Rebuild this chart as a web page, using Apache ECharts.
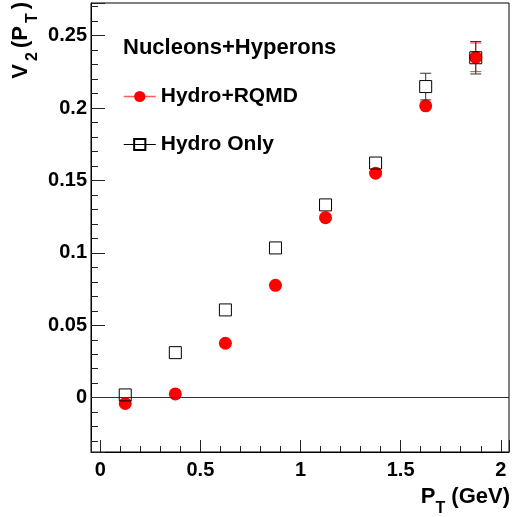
<!DOCTYPE html>
<html><head><meta charset="utf-8">
<script src="https://cdn.jsdelivr.net/npm/echarts@6/dist/echarts.min.js"></script>
<style>html,body{margin:0;padding:0;background:#fff}#c{width:512px;height:517px}</style>
</head><body><div id="c"></div>
<script>
// ---- data ----
const ptBins = [0.125, 0.375, 0.625, 0.875, 1.125, 1.375, 1.625, 1.875];
const v2HydroRQMD = [-0.004, 0.0026, 0.0376, 0.0776, 0.1243, 0.155, 0.2015, 0.2350];
const v2HydroRQMDErr = [0.002, 0.002, 0.002, 0.002, 0.003, 0.003, 0.004, 0.0099];
const v2HydroOnly = [0.0019, 0.0311, 0.0606, 0.1034, 0.1331, 0.162, 0.2148, 0.2347];
const v2HydroOnlyErr = [0.002, 0.002, 0.002, 0.002, 0.003, 0.003, 0.0092, 0.0112];
const xTickValues = [0, 0.5, 1, 1.5, 2];
const xTickLabels = ['0', '0.5', '1', '1.5', '2'];
const yTickValues = [0, 0.05, 0.1, 0.15, 0.2, 0.25];
const yTickLabels = ['0', '0.05', '0.1', '0.15', '0.2', '0.25'];
const seriesNames = ['Hydro+RQMD', 'Hydro Only'];
const legendTitle = 'Nucleons+Hyperons';

const FONT = '"Liberation Sans", Arial, Helvetica, sans-serif';
function lookup(vals, labels) {
  return function (v) {
    for (let i = 0; i < vals.length; i++) if (Math.abs(vals[i] - v) < 1e-9) return labels[i];
    return '';
  };
}
function pts(ys, errs) { return ptBins.map((x, i) => errs ? [x, ys[i], errs[i]] : [x, ys[i]]); }

function errRender(half, color, capHalf) {
  return function (params, api) {
    const x = api.value(0), y = api.value(1), e = api.value(2);
    const p = api.coord([x, y]);
    const top = api.coord([x, y + e])[1];
    const bot = api.coord([x, y - e])[1];
    const ch = [];
    const st = { stroke: color, lineWidth: 1 };
    if (p[1] - top > half) {
      ch.push({ type: 'line', shape: { x1: p[0], y1: top, x2: p[0], y2: p[1] - half }, style: st });
      ch.push({ type: 'line', shape: { x1: p[0] - capHalf, y1: top, x2: p[0] + capHalf, y2: top }, style: st });
    }
    if (bot - p[1] > half) {
      ch.push({ type: 'line', shape: { x1: p[0], y1: p[1] + half, x2: p[0], y2: bot }, style: st });
      ch.push({ type: 'line', shape: { x1: p[0] - capHalf, y1: bot, x2: p[0] + capHalf, y2: bot }, style: st });
    }
    return { type: 'group', children: ch };
  };
}

const chart = echarts.init(document.getElementById('c'), null, { renderer: 'canvas' });
const axisLabelStyle = { fontSize: 20, fontWeight: 'bold', color: '#000', fontFamily: FONT };
const richX = {
  m: { fontSize: 22, fontWeight: 'bold', fontFamily: FONT, color: '#000' },
  s: { fontSize: 16, fontWeight: 'bold', fontFamily: FONT, color: '#000', padding: [25, 0, 0, 0] }
};
const richY = {
  m: { fontSize: 22, fontWeight: 'bold', fontFamily: FONT, color: '#000' },
  s: { fontSize: 16, fontWeight: 'bold', fontFamily: FONT, color: '#000', padding: [25, 4, 0, 3] }
};
chart.setOption({
  animation: false,
  backgroundColor: '#fff',
  grid: { left: 91, right: 3, top: 3, bottom: 65, show: true, borderColor: '#000', borderWidth: 1, backgroundColor: 'transparent' },
  title: { text: legendTitle, left: 123, top: 37, padding: 0,
    textStyle: { fontSize: 22, fontWeight: 'bold', color: '#000', fontFamily: FONT } },
  legend: {
    orient: 'vertical', left: 123, top: 86, padding: 0, itemWidth: 32, itemHeight: 14, itemGap: 27,
    selectedMode: false,
    textStyle: { fontSize: 21, fontWeight: 'bold', color: '#000', fontFamily: FONT },
    data: [
      { name: seriesNames[0], lineStyle: { color: '#ff5a5a', width: 1.5, opacity: 1 } },
      { name: seriesNames[1], lineStyle: { color: '#000', width: 1, opacity: 1 } }
    ]
  },
  xAxis: {
    type: 'value', min: -0.046, max: 2.041, splitNumber: 4, minInterval: 0.5, maxInterval: 0.5,
    axisLine: { onZero: false, lineStyle: { color: '#000', width: 1 } },
    axisTick: { inside: true, length: 12, lineStyle: { color: '#222', width: 1 } },
    minorTick: { show: true, splitNumber: 5, length: 6, lineStyle: { color: '#222', width: 1 } },
    splitLine: { show: false },
    axisLabel: Object.assign({ margin: 8, formatter: lookup(xTickValues, xTickLabels) }, axisLabelStyle)
  },
  yAxis: {
    type: 'value', min: -0.0375, max: 0.2725, splitNumber: 6, minInterval: 0.05, maxInterval: 0.05,
    axisLine: { onZero: false, lineStyle: { color: '#000', width: 1 } },
    axisTick: { inside: true, length: 14, lineStyle: { color: '#222', width: 1 } },
    minorTick: { show: true, splitNumber: 5, length: 7, lineStyle: { color: '#222', width: 1 } },
    splitLine: { show: false },
    axisLabel: Object.assign({ margin: 4, formatter: lookup(yTickValues, yTickLabels) }, axisLabelStyle)
  },
  graphic: [
    { type: 'text', x: 0, y: 2, rotation: Math.PI / 2, silent: true,
      style: { text: '{m|V}{s|2}{m|(P}{s|T}{m|)}', rich: richY, align: 'right', verticalAlign: 'top' } },
    { type: 'text', x: 510, y: 476, silent: true,
      style: { text: '{m|P}{s|T}{m| (GeV)}', rich: richX, align: 'right', verticalAlign: 'top' } }
  ],
  series: [
    { name: seriesNames[0] + ' err', type: 'custom', renderItem: errRender(6.5, '#ff3030', 5.5),
      data: pts(v2HydroRQMD, v2HydroRQMDErr), encode: { x: 0, y: 1 }, silent: true, z: 2 },
    { name: seriesNames[0], type: 'line', data: pts(v2HydroRQMD), symbol: 'circle', symbolSize: 13,
      showAllSymbol: true, lineStyle: { opacity: 0, width: 0 }, itemStyle: { color: '#ff0000' },
      silent: true, z: 3,
      markLine: { silent: true, symbol: 'none', label: { show: false },
        lineStyle: { color: '#333', width: 1.2, type: 'solid' }, data: [{ yAxis: 0 }] } },
    { name: seriesNames[1] + ' err', type: 'custom', renderItem: errRender(6, '#333', 5.5),
      data: pts(v2HydroOnly, v2HydroOnlyErr), encode: { x: 0, y: 1 }, silent: true, z: 4 },
    { name: seriesNames[1], type: 'line', data: pts(v2HydroOnly), symbol: 'rect', symbolSize: 12,
      showAllSymbol: true, lineStyle: { opacity: 0, width: 0 },
      itemStyle: { color: 'rgba(0,0,0,0)', borderColor: '#000', borderWidth: 1 },
      silent: true, z: 5 }
  ]
});
</script></body></html>
